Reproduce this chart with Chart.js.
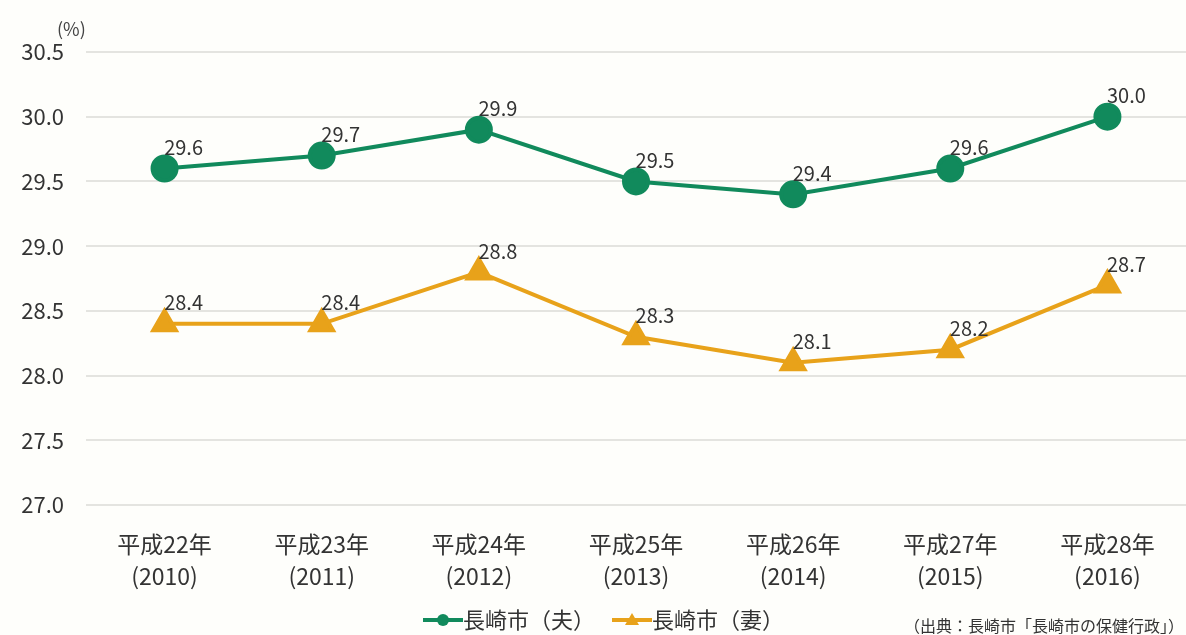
<!DOCTYPE html>
<html><head><meta charset="utf-8">
<script src="https://cdn.jsdelivr.net/npm/chart.js@4"></script>
<style>html,body{margin:0;padding:0;background:#fefefb;overflow:hidden;}#wrap{width:1186px;height:635px;position:relative;}canvas{display:block;}</style>
</head><body><div id="wrap"><canvas id="c" width="1186" height="635"></canvas></div>
<script>
const categoriesLine1 = ['平成22年','平成23年','平成24年','平成25年','平成26年','平成27年','平成28年'];
const categoriesLine2 = ['(2010)','(2011)','(2012)','(2013)','(2014)','(2015)','(2016)'];
const husband = [29.6, 29.7, 29.9, 29.5, 29.4, 29.6, 30.0];
const wife = [28.4, 28.4, 28.8, 28.3, 28.1, 28.2, 28.7];
const seriesNames = ['長崎市（夫）','長崎市（妻）'];
const yMin = 27.0, yMax = 30.5, yStep = 0.5;
const unitLabel = '(%)';
const sourceText = '（出典：長崎市「長崎市の保健行政」）';

const GREEN = '#118a5c', ORANGE = '#e8a21a';
const FONT = '"Noto Sans CJK JP", "Noto Sans", sans-serif';

const labelPlugin = {
  id: 'labels',
  afterDatasetsDraw(chart) {
    const ctx = chart.ctx;
    ctx.save();
    ctx.font = '20px ' + FONT;
    ctx.fillStyle = '#333';
    ctx.textAlign = 'center';
    ctx.textBaseline = 'middle';
    chart.data.datasets.forEach((ds, i) => {
      chart.getDatasetMeta(i).data.forEach((pt, j) => {
        ctx.fillText(ds.data[j].toFixed(1), pt.x + 19, pt.y - 21);
      });
    });
    // unit
    ctx.font = '18px ' + FONT;
    ctx.fillStyle = '#444';
    ctx.textAlign = 'left';
    ctx.fillText(unitLabel, 57, 29);
    // legend
    const ly = 620;
    const items = [[GREEN, 'circle', 423, seriesNames[0]], [ORANGE, 'triangle', 612, seriesNames[1]]];
    items.forEach(([col, shape, x, name]) => {
      ctx.strokeStyle = col; ctx.fillStyle = col; ctx.lineWidth = 4;
      ctx.beginPath(); ctx.moveTo(x, ly); ctx.lineTo(x + 40, ly); ctx.stroke();
      ctx.beginPath();
      if (shape === 'circle') { ctx.arc(x + 20, ly, 6, 0, Math.PI * 2); }
      else { ctx.moveTo(x + 20, ly - 7); ctx.lineTo(x + 27, ly + 5); ctx.lineTo(x + 13, ly + 5); ctx.closePath(); }
      ctx.fill();
      ctx.fillStyle = '#333';
      ctx.font = '22px ' + FONT;
      ctx.textAlign = 'left';
      ctx.fillText(name, x + 40, ly);
    });
    ctx.font = '16px ' + FONT;
    ctx.fillStyle = '#333';
    ctx.textAlign = 'right';
    ctx.fillText(sourceText, 1184, 626);
    ctx.restore();
  }
};

const bgPlugin = {
  id: 'bg',
  beforeDraw(chart) {
    const ctx = chart.ctx;
    ctx.save(); ctx.fillStyle = '#fefefb'; ctx.fillRect(0, 0, chart.width, chart.height); ctx.restore();
  }
};

new Chart(document.getElementById('c'), {
  type: 'line',
  data: {
    labels: categoriesLine1.map((a, i) => [a, categoriesLine2[i]]),
    datasets: [
      { label: seriesNames[0], data: husband, borderColor: GREEN, backgroundColor: GREEN, borderWidth: 4,
        pointStyle: 'circle', pointRadius: 12, pointHoverRadius: 12, tension: 0, clip: false },
      { label: seriesNames[1], data: wife, borderColor: ORANGE, backgroundColor: ORANGE, borderWidth: 4,
        pointStyle: 'triangle', pointRadius: 13, pointHoverRadius: 13, tension: 0, clip: false }
    ]
  },
  options: {
    responsive: false,
    animation: false,
    devicePixelRatio: 1,
    layout: { autoPadding: false, padding: { top: 52, right: 0, left: 0, bottom: 0 } },
    plugins: { legend: { display: false }, tooltip: { enabled: false } },
    scales: {
      x: {
        offset: true,
        grid: { display: false },
        border: { display: false },
        ticks: { color: '#333', font: { family: FONT, size: 23, lineHeight: 1.4 }, padding: 15, maxRotation: 0 },
        afterFit(s) { s.height = 130; s.paddingLeft = 0; s.paddingRight = 0; }
      },
      y: {
        min: yMin, max: yMax,
        grid: { color: '#e4e4e0', lineWidth: 2, drawTicks: false },
        border: { display: false },
        ticks: { stepSize: yStep, color: '#333', font: { family: FONT, size: 22 }, padding: 22,
          callback: v => v.toFixed(1) },
        afterFit(s) { s.width = 86; s.paddingTop = 0; s.paddingBottom = 0; }
      }
    }
  },
  plugins: [bgPlugin, labelPlugin]
});
</script></body></html>
